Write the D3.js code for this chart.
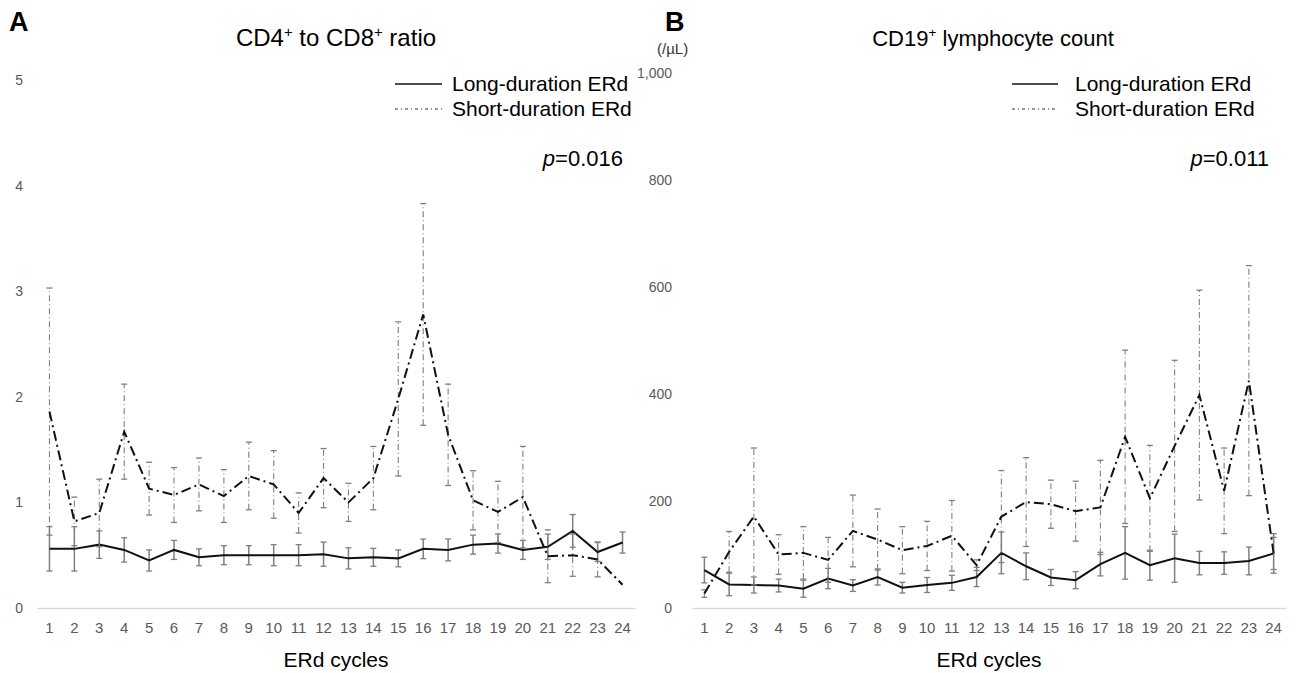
<!DOCTYPE html>
<html>
<head>
<meta charset="utf-8">
<script src="https://cdn.jsdelivr.net/npm/d3@7/dist/d3.min.js"></script>
<style>
  body { margin: 0; background: #fff; }
  svg { display: block; font-family: "Liberation Sans", Arial, sans-serif; }
</style>
</head>
<body>
<svg id="chart" width="1298" height="673"></svg>
<script>
// ERd cycles on the x axis
const cycles = [1, 2, 3, 4, 5, 6, 7, 8, 9, 10, 11, 12, 13, 14, 15, 16, 17, 18, 19, 20, 21, 22, 23, 24];

// Panel A: CD4+/CD8+ ratio (mean and error)
const ratioLong = [0.56, 0.56, 0.60, 0.55, 0.45, 0.55, 0.48, 0.50, 0.50, 0.50, 0.50, 0.51, 0.47, 0.48, 0.47, 0.56, 0.55, 0.60, 0.61, 0.55, 0.58, 0.73, 0.53, 0.62];
const ratioLongErr = [0.21, 0.21, 0.13, 0.115, 0.10, 0.09, 0.08, 0.09, 0.09, 0.10, 0.10, 0.115, 0.10, 0.085, 0.08, 0.093, 0.104, 0.09, 0.09, 0.09, 0.12, 0.155, 0.09, 0.10];
const ratioShort = [1.86, 0.82, 0.90, 1.67, 1.13, 1.07, 1.17, 1.06, 1.25, 1.17, 0.90, 1.23, 1.00, 1.23, 1.98, 2.78, 1.64, 1.02, 0.91, 1.05, 0.49, 0.50, 0.46, 0.22];
const ratioShortErr = [1.17, 0.23, 0.32, 0.45, 0.25, 0.26, 0.25, 0.25, 0.32, 0.32, 0.19, 0.28, 0.18, 0.30, 0.73, 1.05, 0.48, 0.28, 0.29, 0.48, 0.25, 0.20, 0.165, 0];
const ratioTicks = [0, 1, 2, 3, 4, 5];

// Panel B: CD19+ lymphocyte count (/uL)
const cd19Long = [71, 44, 43, 42, 36, 55, 42, 58, 38, 43, 47, 58, 103, 78, 57, 52, 82, 103, 80, 93, 84, 84, 88, 102];
const cd19LongErr = [24, 21, 15, 12, 16, 19, 11, 15, 10, 14, 14, 18, 39, 25, 15, 16, 22, 49, 28, 45, 22, 21, 26, 37];
const cd19Short = [27, 105, 171, 100, 103, 90, 144, 128, 108, 116, 135, 80, 171, 198, 194, 181, 188, 320, 205, 303, 398, 219, 425, 102];
const cd19ShortErr = [7, 38, 128, 37, 49, 42, 67, 57, 44, 46, 66, 10, 86, 83, 45, 56, 88, 162, 99, 160, 196, 80, 215, 30];
const cd19Ticks = [0, 200, 400, 600, 800, 1000];

const legendLabels = ['Long-duration ERd', 'Short-duration ERd'];

const svg = d3.select('#chart');

function drawPanel(p) {
    const x = d3.scaleBand()
        .domain(cycles)
        .range(p.xRange);

    const y = d3.scaleLinear()
        .domain([0, p.yMax])
        .range(p.yRange);

    const g = svg.append('g');
    const cx = d => x(d) + x.bandwidth() / 2;

    // x axis with light baseline
    const xAxis = g.append('g')
        .attr('transform', `translate(0, ${p.yRange[0]})`)
        .call(d3.axisBottom(x).tickSize(0).tickSizeOuter(0).tickPadding(14));
    xAxis.select('.domain').attr('stroke', '#d9d9d9').attr('stroke-width', 1.5);
    xAxis.selectAll('text').attr('font-size', 15).attr('fill', '#595959')
        .attr('font-family', '"Liberation Sans", Arial, sans-serif');

    // y axis, labels only
    const yAxis = g.append('g')
        .attr('transform', `translate(${p.yAxisX}, 0)`)
        .call(d3.axisLeft(y).tickValues(p.ticks).tickSize(0).tickPadding(2)
            .tickFormat(d3.format(',')));
    yAxis.select('.domain').remove();
    yAxis.selectAll('text').attr('font-size', 14).attr('fill', '#595959')
        .attr('font-family', '"Liberation Sans", Arial, sans-serif');

    const series = [
        { mean: p.long, err: p.longErr, dash: null, errDash: null, errWidth: 1.5 },
        { mean: p.short, err: p.shortErr, dash: '10,4,2,4', errDash: '6,3,1,3', errWidth: 1.1 }
    ];

    series.forEach(s => {
        const rows = cycles.map((c, i) => ({ c: c, m: s.mean[i], e: s.err[i] }));
        const bars = g.append('g').selectAll('g')
            .data(rows.filter(d => d.e > 0))
            .enter()
            .append('g')
            .attr('stroke', '#7f7f7f');

        bars.append('line')
            .attr('x1', d => cx(d.c)).attr('x2', d => cx(d.c))
            .attr('y1', d => y(d.m - d.e)).attr('y2', d => y(d.m + d.e))
            .attr('stroke-width', s.errWidth)
            .attr('stroke-dasharray', s.errDash);

        [-1, 1].forEach(k => {
            bars.append('line')
                .attr('x1', d => cx(d.c) - 3).attr('x2', d => cx(d.c) + 3)
                .attr('y1', d => y(d.m + k * d.e)).attr('y2', d => y(d.m + k * d.e))
                .attr('stroke-width', 1.3);
        });

        g.append('path')
            .datum(rows)
            .attr('fill', 'none')
            .attr('stroke', '#111')
            .attr('stroke-width', 2)
            .attr('stroke-dasharray', s.dash)
            .attr('d', d3.line().x(d => cx(d.c)).y(d => y(d.m)));
    });

    // panel letter and title
    g.append('text')
        .attr('x', p.letterX).attr('y', 31)
        .attr('font-size', 27).attr('font-weight', 'bold')
        .text(p.letter);

    const title = g.append('text')
        .attr('x', p.titleX).attr('y', 46)
        .attr('font-size', p.titleSize)
        .attr('text-anchor', 'middle');
    p.title.forEach(part => {
        title.append('tspan')
            .attr('font-size', part.sup ? p.titleSize * 0.62 : p.titleSize)
            .attr('dy', part.sup ? -9 : (part.after ? 9 : 0))
            .text(part.t);
    });

    if (p.unit) {
        g.append('text')
            .attr('x', p.unit.x).attr('y', p.unit.y)
            .attr('font-size', 15).attr('fill', '#333')
            .text(p.unit.t);
    }

    // legend
    const legend = g.append('g');
    legend.append('line')
        .attr('x1', p.legX[0]).attr('x2', p.legX[1])
        .attr('y1', 84).attr('y2', 84)
        .attr('stroke', '#111').attr('stroke-width', 1.5);
    legend.append('line')
        .attr('x1', p.legX[0]).attr('x2', p.legX[1])
        .attr('y1', 109).attr('y2', 109)
        .attr('stroke', '#333').attr('stroke-width', 1.2)
        .attr('stroke-dasharray', '3,3,1,3');
    legendLabels.forEach((t, i) => {
        legend.append('text')
            .attr('x', p.legTextX).attr('y', 91 + i * 25)
            .attr('font-size', 21)
            .text(t);
    });

    // p value
    const pv = g.append('text')
        .attr('x', p.pX).attr('y', 166)
        .attr('font-size', 22)
        .attr('text-anchor', 'end');
    pv.append('tspan').attr('font-style', 'italic').text('p');
    pv.append('tspan').text(p.pText);

    // x axis title
    g.append('text')
        .attr('x', (p.xRange[0] + p.xRange[1]) / 2).attr('y', 667)
        .attr('font-size', 21)
        .attr('text-anchor', 'middle')
        .text('ERd cycles');
}

drawPanel({
    letter: 'A', letterX: 9,
    title: [{ t: 'CD4' }, { t: '+', sup: true }, { t: ' to CD8', after: true }, { t: '+', sup: true }, { t: ' ratio', after: true }],
    titleX: 336, titleSize: 24,
    xRange: [37, 635], yRange: [608, 80], yMax: 5, yAxisX: 25,
    ticks: ratioTicks,
    long: ratioLong, longErr: ratioLongErr, short: ratioShort, shortErr: ratioShortErr,
    legX: [395, 442], legTextX: 452,
    pX: 623, pText: '=0.016'
});

drawPanel({
    letter: 'B', letterX: 665,
    title: [{ t: 'CD19' }, { t: '+', sup: true }, { t: ' lymphocyte count', after: true }],
    titleX: 993, titleSize: 22,
    unit: { t: '(/µL)', x: 657, y: 54 },
    xRange: [692, 1286], yRange: [608, 73], yMax: 1000, yAxisX: 674,
    ticks: cd19Ticks,
    long: cd19Long, longErr: cd19LongErr, short: cd19Short, shortErr: cd19ShortErr,
    legX: [1012, 1058], legTextX: 1075,
    pX: 1269, pText: '=0.011'
});
</script>
</body>
</html>
